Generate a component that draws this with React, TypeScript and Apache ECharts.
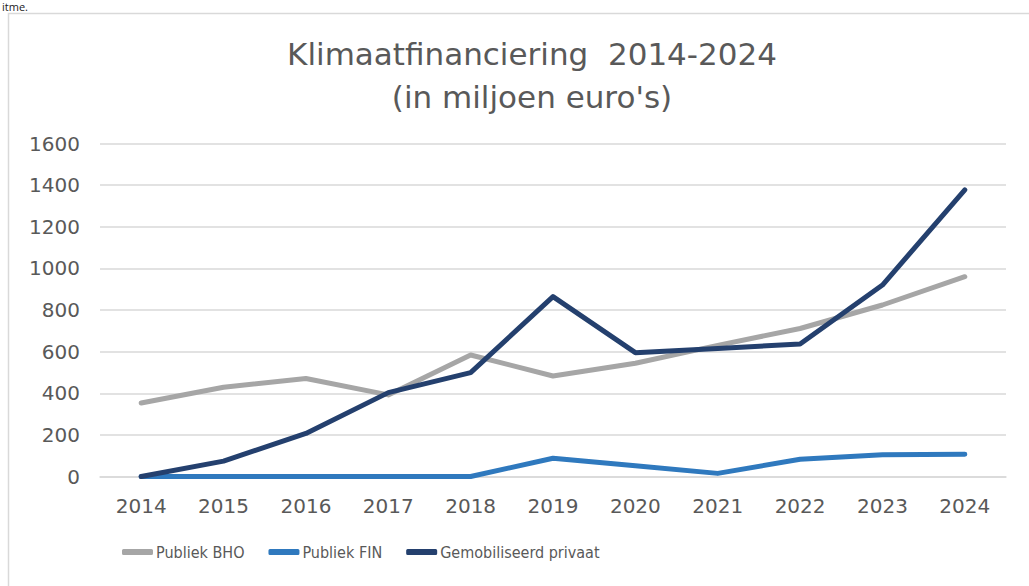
import React, { useEffect, useRef } from "react";
import * as echarts from "echarts";

const years = ["2014", "2015", "2016", "2017", "2018", "2019", "2020", "2021", "2022", "2023", "2024"];
const publiekBHO = [353, 429, 471, 392, 584, 483, 544, 630, 711, 824, 960];
const publiekFIN = [0, 0, 0, 0, 0, 88, 52, 15, 83, 104, 107];
const gemobiliseerdPrivaat = [0, 74, 207, 403, 499, 864, 595, 615, 637, 920, 1377];
const seriesNames = ["Publiek BHO", "Publiek FIN", "Gemobiliseerd privaat"];
const colors = ["#a6a6a6", "#2f79be", "#24406e"];

export default function App() {
  const ref = useRef<HTMLDivElement>(null);
  useEffect(() => {
    if (!ref.current) return;
    const chart = echarts.init(ref.current, undefined, { renderer: "svg" });
    const font = "'DejaVu Sans', Verdana, sans-serif";
    const data = [publiekBHO, publiekFIN, gemobiliseerdPrivaat];
    chart.setOption({
      animation: false,
      backgroundColor: "#ffffff",
      title: {
        text: "Klimaatfinanciering  2014-2024\n(in miljoen euro's)",
        left: 527,
        top: 27,
        textAlign: "center",
        textStyle: {
          fontFamily: font,
          fontSize: 31,
          fontWeight: "normal",
          color: "#595959",
          lineHeight: 43,
        },
      },
      graphic: [
        {
          type: "rect",
          shape: { x: 8.5, y: 13.5, width: 1100, height: 700 },
          style: { fill: "none", stroke: "#d9d9d9", lineWidth: 1.5 },
          silent: true,
          z: -1,
        },
        {
          type: "text",
          x: 2,
          y: 1,
          style: {
            text: "itme.",
            fontFamily: "'Open Sans', sans-serif",
            fontSize: 11,
            fill: "#222222",
            textVerticalAlign: "top",
          },
        },
      ],
      legend: {
        left: 122,
        top: 544,
        padding: 0,
        itemGap: 24,
        itemWidth: 31,
        itemHeight: 6,
        icon: "roundRect",
        textStyle: {
          fontFamily: "'DejaVu Sans Condensed', 'Liberation Sans', sans-serif",
          fontSize: 16,
          color: "#595959",
          padding: [0, 0, 0, -2],
        },
        data: seriesNames,
      },
      grid: { left: 100, right: 23, top: 143.5, bottom: 109.5, containLabel: false },
      xAxis: {
        type: "category",
        data: years,
        boundaryGap: true,
        axisLine: { show: true, lineStyle: { color: "#d9d9d9", width: 1.5 } },
        axisTick: { show: false },
        axisLabel: { margin: 19, fontFamily: font, fontSize: 20, color: "#595959" },
      },
      yAxis: {
        type: "value",
        min: 0,
        max: 1600,
        interval: 200,
        axisLine: { show: false },
        axisTick: { show: false },
        axisLabel: {
          margin: 20,
          fontFamily: font,
          fontSize: 20,
          color: "#595959",
          formatter: (v: number) => String(v),
        },
        splitLine: { lineStyle: { color: "#d9d9d9", width: 1.5 } },
      },
      series: seriesNames.map((name, i) => ({
        name,
        type: "line",
        data: data[i],
        symbol: "none",
        color: colors[i],
        lineStyle: { width: 5, color: colors[i], cap: "round", join: "round" },
        z: 2 + i,
      })),
    });
    return () => chart.dispose();
  }, []);
  return (
    <div
      ref={ref}
      style={{ position: "absolute", left: 0, top: 0, width: 1029, height: 586 }}
    />
  );
}
